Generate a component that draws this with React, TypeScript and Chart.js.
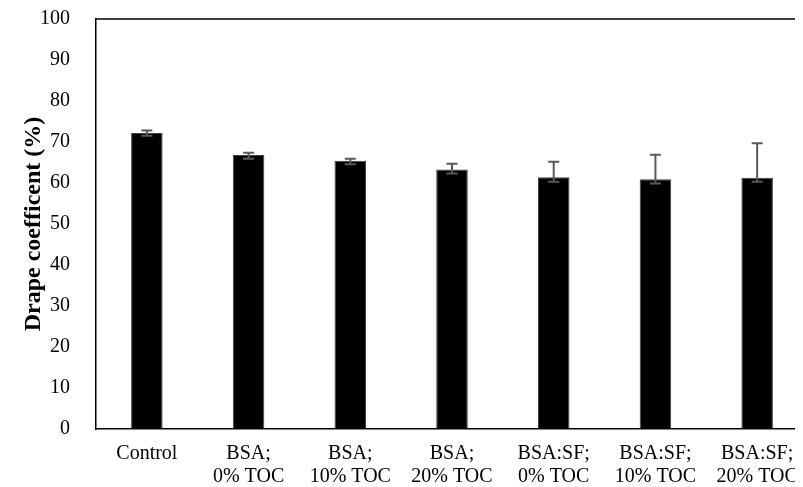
import React, { useEffect, useRef } from "react";
import { Chart, registerables } from "chart.js";

Chart.register(...registerables);

const categories: string[][] = [
  ["Control"],
  ["BSA;", "0% TOC"],
  ["BSA;", "10% TOC"],
  ["BSA;", "20% TOC"],
  ["BSA:SF;", "0% TOC"],
  ["BSA:SF;", "10% TOC"],
  ["BSA:SF;", "20% TOC"],
];
const means = [72.2, 66.8, 65.4, 63.3, 61.4, 60.9, 61.3];
const errHigh = [72.8, 67.4, 65.9, 64.7, 65.2, 66.9, 69.7];
const errLow = [71.5, 65.9, 64.6, 62.3, 60.3, 59.9, 60.3];
const yTicks = [0, 10, 20, 30, 40, 50, 60, 70, 80, 90, 100];

const errorBarPlugin = {
  id: "errorBars",
  afterDatasetsDraw(chart: any) {
    const ctx = chart.ctx;
    const x = chart.scales.x;
    const y = chart.scales.y;
    ctx.save();
    ctx.strokeStyle = "#595959";
    ctx.lineWidth = 2;
    means.forEach((_, i) => {
      const px = x.getPixelForValue(i);
      const hi = y.getPixelForValue(errHigh[i]);
      const lo = y.getPixelForValue(errLow[i]);
      ctx.beginPath();
      ctx.moveTo(px, hi);
      ctx.lineTo(px, lo);
      ctx.moveTo(px - 5.5, hi);
      ctx.lineTo(px + 5.5, hi);
      ctx.moveTo(px - 5.5, lo);
      ctx.lineTo(px + 5.5, lo);
      ctx.stroke();
    });
    ctx.restore();
  },
};

const topBorderPlugin = {
  id: "topBorder",
  afterDraw(chart: any) {
    const { ctx, chartArea } = chart;
    ctx.save();
    ctx.strokeStyle = "#000";
    ctx.lineWidth = 1.5;
    ctx.beginPath();
    ctx.moveTo(chartArea.left, chartArea.top);
    ctx.lineTo(chartArea.right, chartArea.top);
    ctx.stroke();
    ctx.restore();
  },
};

export default function App() {
  const ref = useRef<HTMLCanvasElement>(null);
  useEffect(() => {
    if (!ref.current) return;
    const chart = new Chart(ref.current, {
      type: "bar",
      data: {
        labels: categories,
        datasets: [
          {
            data: means,
            backgroundColor: "#000000",
            borderColor: "#3f3f3f",
            borderWidth: 1,
            barPercentage: 0.31,
            categoryPercentage: 1,
          },
        ],
      },
      options: {
        responsive: false,
        animation: false,
        layout: { padding: { top: 11, right: 0, left: 0, bottom: 0 } },
        plugins: {
          legend: { display: false },
          tooltip: { enabled: false },
        },
        scales: {
          x: {
            offset: true,
            grid: { display: false, drawTicks: false },
            border: { display: true, color: "#000", width: 1.5 },
            ticks: {
              color: "#000",
              padding: 13,
              maxRotation: 0,
              autoSkip: false,
              font: { family: "'Liberation Serif', 'Times New Roman', serif", size: 20, lineHeight: 1.15 },
            },
            afterFit(scale: any) {
              scale.height = 58;
              scale.paddingLeft = 0;
              scale.paddingRight = 0;
            },
          },
          y: {
            min: 0,
            max: 100,
            afterBuildTicks(scale: any) {
              scale.ticks = yTicks.map((v) => ({ value: v }));
            },
            grid: { display: false, drawTicks: false },
            border: { display: true, color: "#000", width: 1.5 },
            ticks: {
              color: "#000",
              padding: 26,
              font: { family: "'Liberation Serif', 'Times New Roman', serif", size: 20 },
            },
            title: {
              display: true,
              text: "Drape coefficent (%)",
              color: "#000",
              padding: { top: 11, bottom: 0 },
              font: { family: "'Liberation Serif', 'Times New Roman', serif", size: 24, weight: "bold" },
            },
            afterFit(scale: any) {
              scale.width = 88;
              scale.paddingTop = 0;
              scale.paddingBottom = 0;
            },
          },
        },
      },
      plugins: [errorBarPlugin, topBorderPlugin],
    });
    return () => chart.destroy();
  }, []);
  return (
    <div style={{ width: 795, height: 479, overflow: "hidden" }}>
      <canvas ref={ref} width={800} height={479} style={{ display: "block" }} />
    </div>
  );
}
